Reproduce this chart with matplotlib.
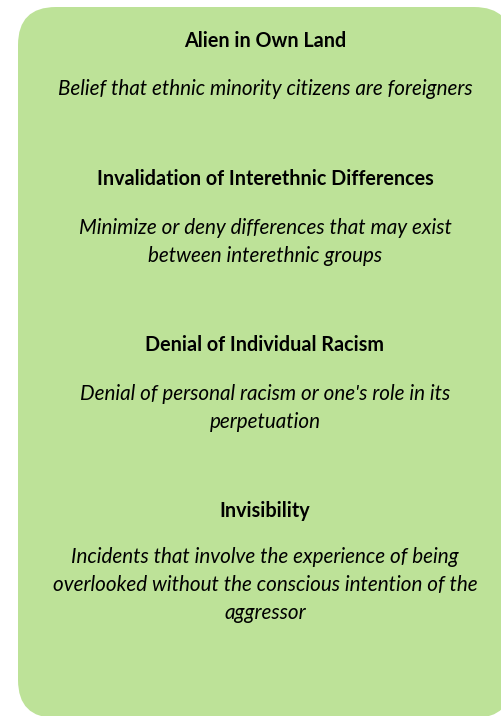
import matplotlib

matplotlib.use("Agg")

import matplotlib.pyplot as plt  # noqa: E402
from matplotlib.patches import FancyBboxPatch  # noqa: E402

# Card content: heading + italic description per category.
HEADINGS = [
    "Alien in Own Land",
    "Invalidation of Interethnic Differences",
    "Denial of Individual Racism",
    "Invisibility",
]
DESCRIPTIONS = [
    "Belief that ethnic minority citizens are foreigners",
    "Minimize or deny differences that may exist\nbetween interethnic groups",
    "Denial of personal racism or one's role in its\nperpetuation",
    "Incidents that involve the experience of being\n"
    "overlooked without the conscious intention of the\naggressor",
]

CARD_COLOR = "#bde298"
FONT = "Lato"

W, H = 502, 716
fig = plt.figure(figsize=(W / 100, H / 100), dpi=100)
ax = fig.add_axes([0, 0, 1, 1])
ax.set_xlim(0, W)
ax.set_ylim(H, 0)
ax.axis("off")

# rounded green card, runs slightly off the right edge
r = 38
card = FancyBboxPatch(
    (18 + r, 7 + r), 494 - 2 * r, 711 - 2 * r,
    boxstyle=f"round,pad={r}", facecolor=CARD_COLOR, edgecolor="none",
)
ax.add_patch(card)

cx = 265
head_y = [41, 179, 345, 511]
desc_y = [89, 242, 408, 585]
for head, desc, hy, dy in zip(HEADINGS, DESCRIPTIONS, head_y, desc_y):
    ax.text(cx, hy, head, ha="center", va="center", fontsize=14.2,
            fontweight="bold", family=FONT, color="black")
    ax.text(cx, dy, desc, ha="center", va="center", fontsize=14.9,
            style="italic", family=FONT, color="black", linespacing=1.52)

fig.savefig("out.png", dpi=100)
